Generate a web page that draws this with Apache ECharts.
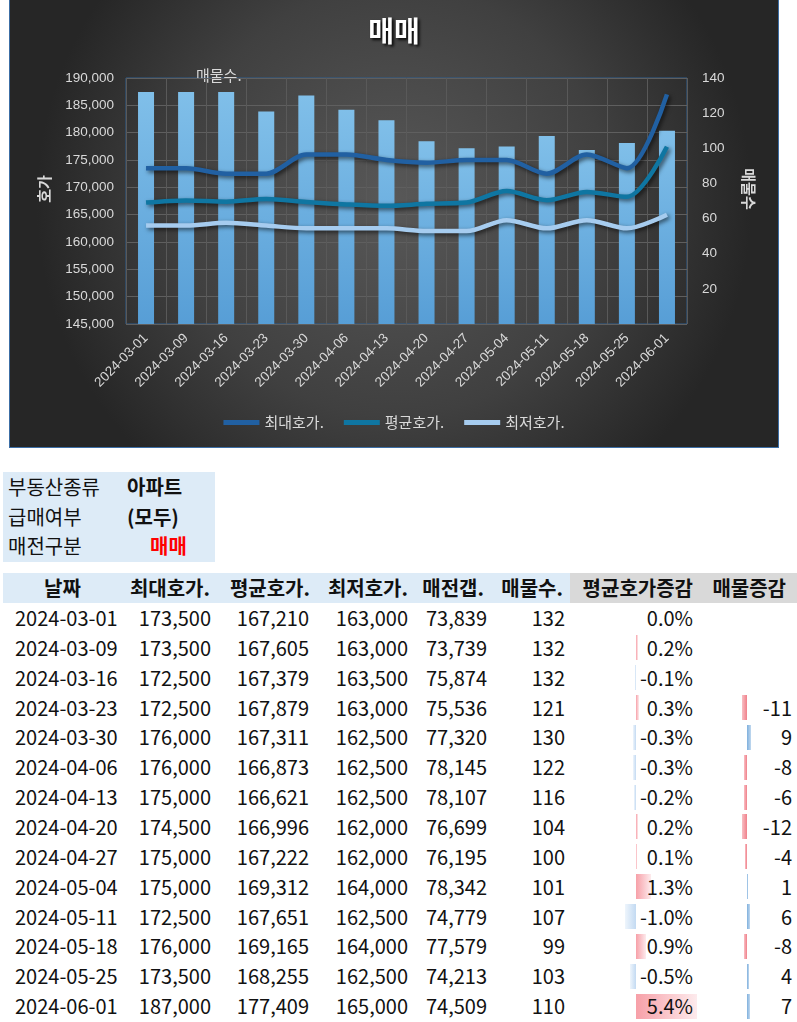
<!DOCTYPE html>
<html><head><meta charset="utf-8">
<script src="https://cdn.jsdelivr.net/npm/echarts@6/dist/echarts.min.js"></script>
<style>
html,body{margin:0;padding:0;background:#fff;width:797px;height:1022px;overflow:hidden;font-family:"Noto Sans CJK KR","Noto Sans",sans-serif;}
#chart{position:absolute;left:9px;top:0;width:770px;height:448px;box-sizing:border-box;border:1px solid #3c6ea5;border-top:none;}
.abs{position:absolute;white-space:nowrap;}
.t{font-size:20px;color:#111;height:30px;line-height:30px;}
.b{font-weight:bold;}
</style></head><body>
<div id="chart"></div>
<div id="tbl"></div>
<script>
const dates = ['2024-03-01','2024-03-09','2024-03-16','2024-03-23','2024-03-30','2024-04-06','2024-04-13','2024-04-20','2024-04-27','2024-05-04','2024-05-11','2024-05-18','2024-05-25','2024-06-01'];
const maxPrice = [173500,173500,172500,172500,176000,176000,175000,174500,175000,175000,172500,176000,173500,187000];
const avgPrice = [167210,167605,167379,167879,167311,166873,166621,166996,167222,169312,167651,169165,168255,177409];
const minPrice = [163000,163000,163500,163000,162500,162500,162500,162000,162000,164000,162500,164000,162500,165000];
const gap = [73839,73739,75874,75536,77320,78145,78107,76699,76195,78342,74779,77579,74213,74509];
const listings = [132,132,132,121,130,122,116,104,100,101,107,99,103,110];
const avgChange = [0.0,0.2,-0.1,0.3,-0.3,-0.3,-0.2,0.2,0.1,1.3,-1.0,0.9,-0.5,5.4];
const listingChange = [null,null,null,-11,9,-8,-6,-12,-4,1,6,-8,4,7];
const headers = ['날짜','최대호가.','평균호가.','최저호가.','매전갭.','매물수.','평균호가증감','매물증감'];
const filterLabels = ['부동산종류','급매여부','매전구분'];
const filterValues = ['아파트','(모두)','매매'];
const leftTicks = {min:145000,max:190000,interval:5000};
const rightTicks = {min:0,max:140,interval:20};

const chart = echarts.init(document.getElementById('chart'));
const lab = '#d9d9d9';
const shadow = {shadowColor:'rgba(0,0,0,0.6)',shadowBlur:4,shadowOffsetX:2,shadowOffsetY:2};
chart.setOption({
  backgroundColor:{type:'radial',x:0.5,y:0.45,r:0.8,colorStops:[{offset:0,color:'#585858'},{offset:0.6,color:'#404040'},{offset:1,color:'#262626'}]},
  textStyle:{fontFamily:'"Liberation Sans","Noto Sans CJK KR",sans-serif'},
  title:{text:'매매',left:'center',top:12,textStyle:{color:'#fff',fontSize:28,fontWeight:'bold',fontFamily:'"Noto Sans CJK KR",sans-serif',textShadowColor:'rgba(0,0,0,0.9)',textShadowBlur:3,textShadowOffsetX:2,textShadowOffsetY:2}},
  graphic:[{type:'text',left:186,top:68,style:{text:'매물수.',fill:lab,font:'15px "Noto Sans CJK KR",sans-serif'}}],
  legend:{bottom:12,left:'center',itemWidth:36,itemHeight:5,itemGap:20,icon:'rect',data:['최대호가.','평균호가.','최저호가.'],textStyle:{color:lab,fontSize:15,fontFamily:'"Noto Sans CJK KR",sans-serif'}},
  grid:{left:116,right:91,top:78,bottom:123,show:true,borderColor:'#2f5f90',borderWidth:1,backgroundColor:'transparent'},
  xAxis:{type:'category',data:dates,boundaryGap:true,axisLine:{show:false},axisTick:{show:false},
    splitLine:{show:true,lineStyle:{color:'#595959',width:1}},
    axisLabel:{rotate:45,color:lab,fontSize:13.5,margin:12,interval:0}},
  yAxis:[
    {type:'value',min:leftTicks.min,max:leftTicks.max,interval:leftTicks.interval,position:'left',
     name:'호가',nameLocation:'middle',nameGap:74,nameTextStyle:{color:lab,fontSize:15,fontWeight:'bold',fontFamily:'"Noto Sans CJK KR",sans-serif',padding:[0,0,0,24]},
     axisLine:{show:false},axisTick:{show:false},splitLine:{lineStyle:{color:'#5f5f5f'}},
     axisLabel:{color:lab,fontSize:13.5,margin:12,formatter:v=>v.toLocaleString('en-US')}},
    {type:'value',min:rightTicks.min,max:rightTicks.max,interval:rightTicks.interval,position:'right',
     name:'매물수',nameLocation:'middle',nameRotate:-90,nameGap:54,nameTextStyle:{color:lab,fontSize:15,fontWeight:'bold',fontFamily:'"Noto Sans CJK KR",sans-serif',padding:[0,24,0,0]},
     axisLine:{show:false},axisTick:{show:false},splitLine:{show:false},
     axisLabel:{color:lab,fontSize:13.5,margin:15,formatter:v=>v===0?'':String(v)}}
  ],
  series:[
    {name:'매물수.',type:'bar',yAxisIndex:1,data:listings,barWidth:16,z:1,
     itemStyle:{color:{type:'linear',x:0,y:0,x2:0,y2:1,colorStops:[{offset:0,color:'#80bfe9'},{offset:1,color:'#579ed6'}]},shadowColor:'rgba(0,0,0,0.5)',shadowBlur:3,shadowOffsetX:2,shadowOffsetY:1}},
    {name:'최대호가.',type:'line',yAxisIndex:0,data:maxPrice,smooth:0.3,symbol:'none',z:3,color:'#2160a2',lineStyle:Object.assign({width:4.5,color:'#2160a2'},shadow)},
    {name:'평균호가.',type:'line',yAxisIndex:0,data:avgPrice,smooth:0.3,symbol:'none',z:3,color:'#0f76a2',lineStyle:Object.assign({width:4.5,color:'#0f76a2'},shadow)},
    {name:'최저호가.',type:'line',yAxisIndex:0,data:minPrice,smooth:0.3,symbol:'none',z:3,color:'#a6ccef',lineStyle:Object.assign({width:4.5,color:'#a6ccef'},shadow)}
  ]
});

// ---- table ----
const tbl = document.getElementById('tbl');
function el(cls, css, txt){const d=document.createElement('div');d.className=cls;Object.assign(d.style,css);if(txt!==undefined)d.textContent=txt;tbl.appendChild(d);return d;}
// filter box
el('abs',{left:'3px',top:'472px',width:'212px',height:'90px',background:'#ddebf7'});
const fTop=[472,502,531];
filterLabels.forEach((l,i)=>{
  el('abs t',{left:'8px',top:fTop[i]+'px'},l);
  if(i<2) el('abs t b',{left:'127px',top:fTop[i]+'px'},filterValues[i]);
  else el('abs t b',{left:'150px',top:fTop[i]+'px',color:'#ff0000'},filterValues[i]);
});
// header
el('abs',{left:'3px',top:'573px',width:'567px',height:'30px',background:'#ddebf7'});
el('abs',{left:'570px',top:'573px',width:'227px',height:'30px',background:'#d9d9d9'});
const colRight=[0,211,309,408,487,565,693,792];
const headRight=[0,210,310,408,484,563,693,786];
headers.forEach((h,c)=>{
  if(c===0) el('abs t b',{left:'3px',width:'119px',textAlign:'center',top:'573px'},h);
  else el('abs t b',{right:(797-headRight[c])+'px',top:'573px'},h);
});
const rowH=29.85, row0=603;
const fmt=v=>v.toLocaleString('en-US');
dates.forEach((d,i)=>{
  const top=row0+i*rowH;
  el('abs t',{left:'15px',top:top+'px'},d);
  [maxPrice,avgPrice,minPrice,gap,listings].forEach((arr,k)=>{
    el('abs t',{right:(797-colRight[k+1])+'px',top:top+'px'},fmt(arr[i]));
  });
  // avg change data bar
  const a=avgChange[i], ax=636, sc=11.3;
  if(a!==0){
    const w=Math.max(1,Math.abs(a)*sc);
    if(a>0) el('abs',{left:ax+'px',top:(top+2.5)+'px',width:w+'px',height:'25px',background:'linear-gradient(to right,#f7a0a8,#fdebed)'});
    else el('abs',{left:(ax-w)+'px',top:(top+2.5)+'px',width:w+'px',height:'25px',background:'linear-gradient(to left,#c3daf2,#eef5fc)'});
  }
  el('abs t',{right:(797-colRight[6])+'px',top:top+'px'},a.toFixed(1)+'%');
  const lc=listingChange[i], lx=747, ls=0.42;
  if(lc!==null){
    const w=Math.max(1,Math.abs(lc)*ls);
    if(lc<0) el('abs',{left:(lx-w)+'px',top:(top+2.5)+'px',width:w+'px',height:'25px',background:'linear-gradient(to left,#f0808a,#f8c0c5)'});
    else el('abs',{left:lx+'px',top:(top+2.5)+'px',width:w+'px',height:'25px',background:'linear-gradient(to right,#7fb0dd,#c0d8ef)'});
    el('abs t',{right:(797-colRight[7])+'px',top:top+'px'},String(lc));
  }
});
</script>
</body></html>
